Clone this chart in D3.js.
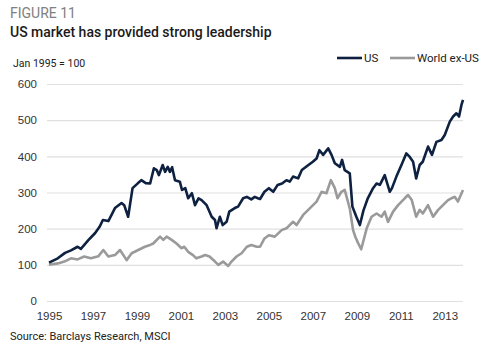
<!DOCTYPE html>
<html>
<head>
<meta charset="utf-8">
<script src="https://cdn.jsdelivr.net/npm/d3@7"></script>
<style>
  body { margin: 0; background: #fff; }
  svg { display: block; font-family: "Roboto", sans-serif; }
</style>
</head>
<body>
<div id="chart"></div>
<script>
// values (decimal year, index Jan 1995 = 100)
var usDates = [1995.0,1995.4,1995.73,1996.0,1996.3,1996.45,1996.8,1997.1,1997.3,1997.45,1997.7,1998.0,1998.3,1998.42,1998.6,1998.8,
  1999.05,1999.2,1999.4,1999.6,1999.77,1999.9,2000.0,2000.17,2000.28,2000.4,2000.5,2000.6,2000.73,2000.95,2001.05,2001.2,2001.33,
  2001.5,2001.64,2001.8,2001.94,2002.17,2002.4,2002.55,2002.62,2002.77,2002.9,2003.08,2003.2,2003.45,2003.6,2003.83,2004.0,2004.2,
  2004.36,2004.5,2004.6,2004.8,2005.0,2005.2,2005.4,2005.6,2005.8,2005.95,2006.1,2006.33,2006.5,2006.8,2007.0,2007.17,2007.3,
  2007.47,2007.7,2007.85,2008.0,2008.23,2008.33,2008.45,2008.68,2008.8,2008.98,2009.14,2009.3,2009.5,2009.74,2009.9,2010.05,
  2010.27,2010.5,2010.6,2010.8,2011.03,2011.25,2011.4,2011.56,2011.7,2011.86,2012.0,2012.24,2012.42,2012.62,2012.85,2013.0,
  2013.23,2013.38,2013.53,2013.65,2013.76,2013.83];
var usValues = [106,118,133,140,150,144,169,188,205,224,221,257,271,265,233,312,
  326,334,326,325,367,362,348,376,357,371,357,370,334,330,307,312,284,
  298,265,284,279,265,233,224,201,233,210,219,247,257,261,284,288,281,
  288,284,282,302,312,302,321,325,334,330,344,339,362,376,385,394,417,
  404,422,404,381,371,390,362,353,261,233,210,250,284,312,325,321,
  348,302,312,344,376,408,399,385,339,376,385,427,404,440,445,459,
  496,510,519,510,542,556];

var worldDates = [1995.0,1995.4,1995.7,1996.0,1996.3,1996.6,1996.9,1997.25,1997.47,1997.7,1998.0,1998.23,1998.53,1998.76,1999.06,
  1999.36,1999.6,1999.74,2000.05,2000.2,2000.35,2000.58,2000.8,2001.03,2001.15,2001.33,2001.55,2001.7,2001.94,2002.1,2002.3,
  2002.55,2002.7,2002.92,2003.15,2003.3,2003.53,2003.76,2004.0,2004.2,2004.45,2004.6,2004.8,2005.0,2005.27,2005.58,2005.8,
  2006.1,2006.26,2006.56,2006.86,2007.17,2007.4,2007.62,2007.82,2008.0,2008.12,2008.3,2008.45,2008.68,2008.83,2008.95,2009.06,
  2009.2,2009.45,2009.67,2009.9,2010.12,2010.27,2010.42,2010.65,2010.88,2011.18,2011.33,2011.5,2011.7,2011.86,2012.0,2012.24,
  2012.47,2012.7,2012.92,2013.15,2013.3,2013.45,2013.6,2013.83];
var worldValues = [100,104,109,118,115,123,118,124,141,123,127,141,113,132,141,
  150,155,159,178,169,178,169,159,146,150,136,127,118,123,127,123,
  109,100,109,97,109,123,132,150,155,150,150,173,182,178,196,201,
  219,210,238,256,275,302,298,334,312,284,302,307,256,196,175,160,
  143,201,233,242,233,247,219,247,265,284,293,279,233,252,242,265,
  233,252,265,279,284,288,275,307];

var yTicks = [0, 100, 200, 300, 400, 500, 600];
var xTicks = [1995, 1997, 1999, 2001, 2003, 2005, 2007, 2009, 2011, 2013];

var W = 480, H = 347;
var usColor = '#0e2140', worldColor = '#9a9a9a';

var svg = d3.select('#chart').append('svg').attr('width', W).attr('height', H);

// scales
var x = d3.scaleLinear().domain([1995, 2013.83]).range([49, 463]);
var y = d3.scaleLinear().domain([0, 600]).range([301, 84]);

// titles
svg.append('text').attr('x', 10).attr('y', 18).text('FIGURE 11')
  .style('font-size', '14px').style('fill', '#808080');
svg.append('text').attr('x', 10).attr('y', 37).text('US market has provided strong leadership')
  .style('font-size', '14px').style('font-weight', '500').style('fill', '#1a1a1a');
svg.append('text').attr('x', 13).attr('y', 67).text('Jan 1995 = 100')
  .style('font-size', '10.5px').style('fill', '#222');

// gridlines + y labels
var yAxis = svg.append('g').attr('class', 'y axis').attr('transform', 'translate(47,0)')
  .call(d3.axisLeft(y).tickValues(yTicks).tickSize(-416).tickPadding(10).tickFormat(d3.format('d')));
yAxis.select('.domain').remove();
yAxis.selectAll('line').attr('stroke', '#e0e0e0').attr('stroke-width', 1.2);
yAxis.selectAll('text').style('font-size', '11.5px').style('fill', '#333').style('font-family', null);

// x labels
var xAxis = svg.append('g').attr('class', 'x axis').attr('transform', 'translate(0,301)')
  .call(d3.axisBottom(x).tickValues(xTicks).tickSize(0).tickPadding(11).tickFormat(d3.format('d')));
xAxis.select('.domain').remove();
xAxis.selectAll('text').style('font-size', '11.5px').style('fill', '#333').style('font-family', null);

// lines
var line = d3.line().x(function(d) { return x(d[0]); }).y(function(d) { return y(d[1]); });
svg.append('path').datum(d3.zip(worldDates, worldValues)).attr('d', line)
  .attr('fill', 'none').attr('stroke', worldColor).attr('stroke-width', 2.6).attr('stroke-linejoin', 'round');
svg.append('path').datum(d3.zip(usDates, usValues)).attr('d', line)
  .attr('fill', 'none').attr('stroke', usColor).attr('stroke-width', 2.6).attr('stroke-linejoin', 'round');

// legend
var legendItems = [{name: 'US', color: usColor, x: 337}, {name: 'World ex-US', color: worldColor, x: 390}];
var leg = svg.selectAll('.legend').data(legendItems).enter().append('g').attr('class', 'legend')
  .attr('transform', function(d) { return 'translate(' + d.x + ',58)'; });
leg.append('line').attr('x1', 0).attr('x2', 25).attr('stroke', function(d) { return d.color; }).attr('stroke-width', 2.6);
leg.append('text').attr('x', 27).attr('y', 4).text(function(d) { return d.name; })
  .style('font-size', '11.5px').style('fill', '#222');

// source
svg.append('text').attr('x', 10).attr('y', 340).text('Source: Barclays Research, MSCI')
  .style('font-size', '11px').style('fill', '#222');
</script>
</body>
</html>
